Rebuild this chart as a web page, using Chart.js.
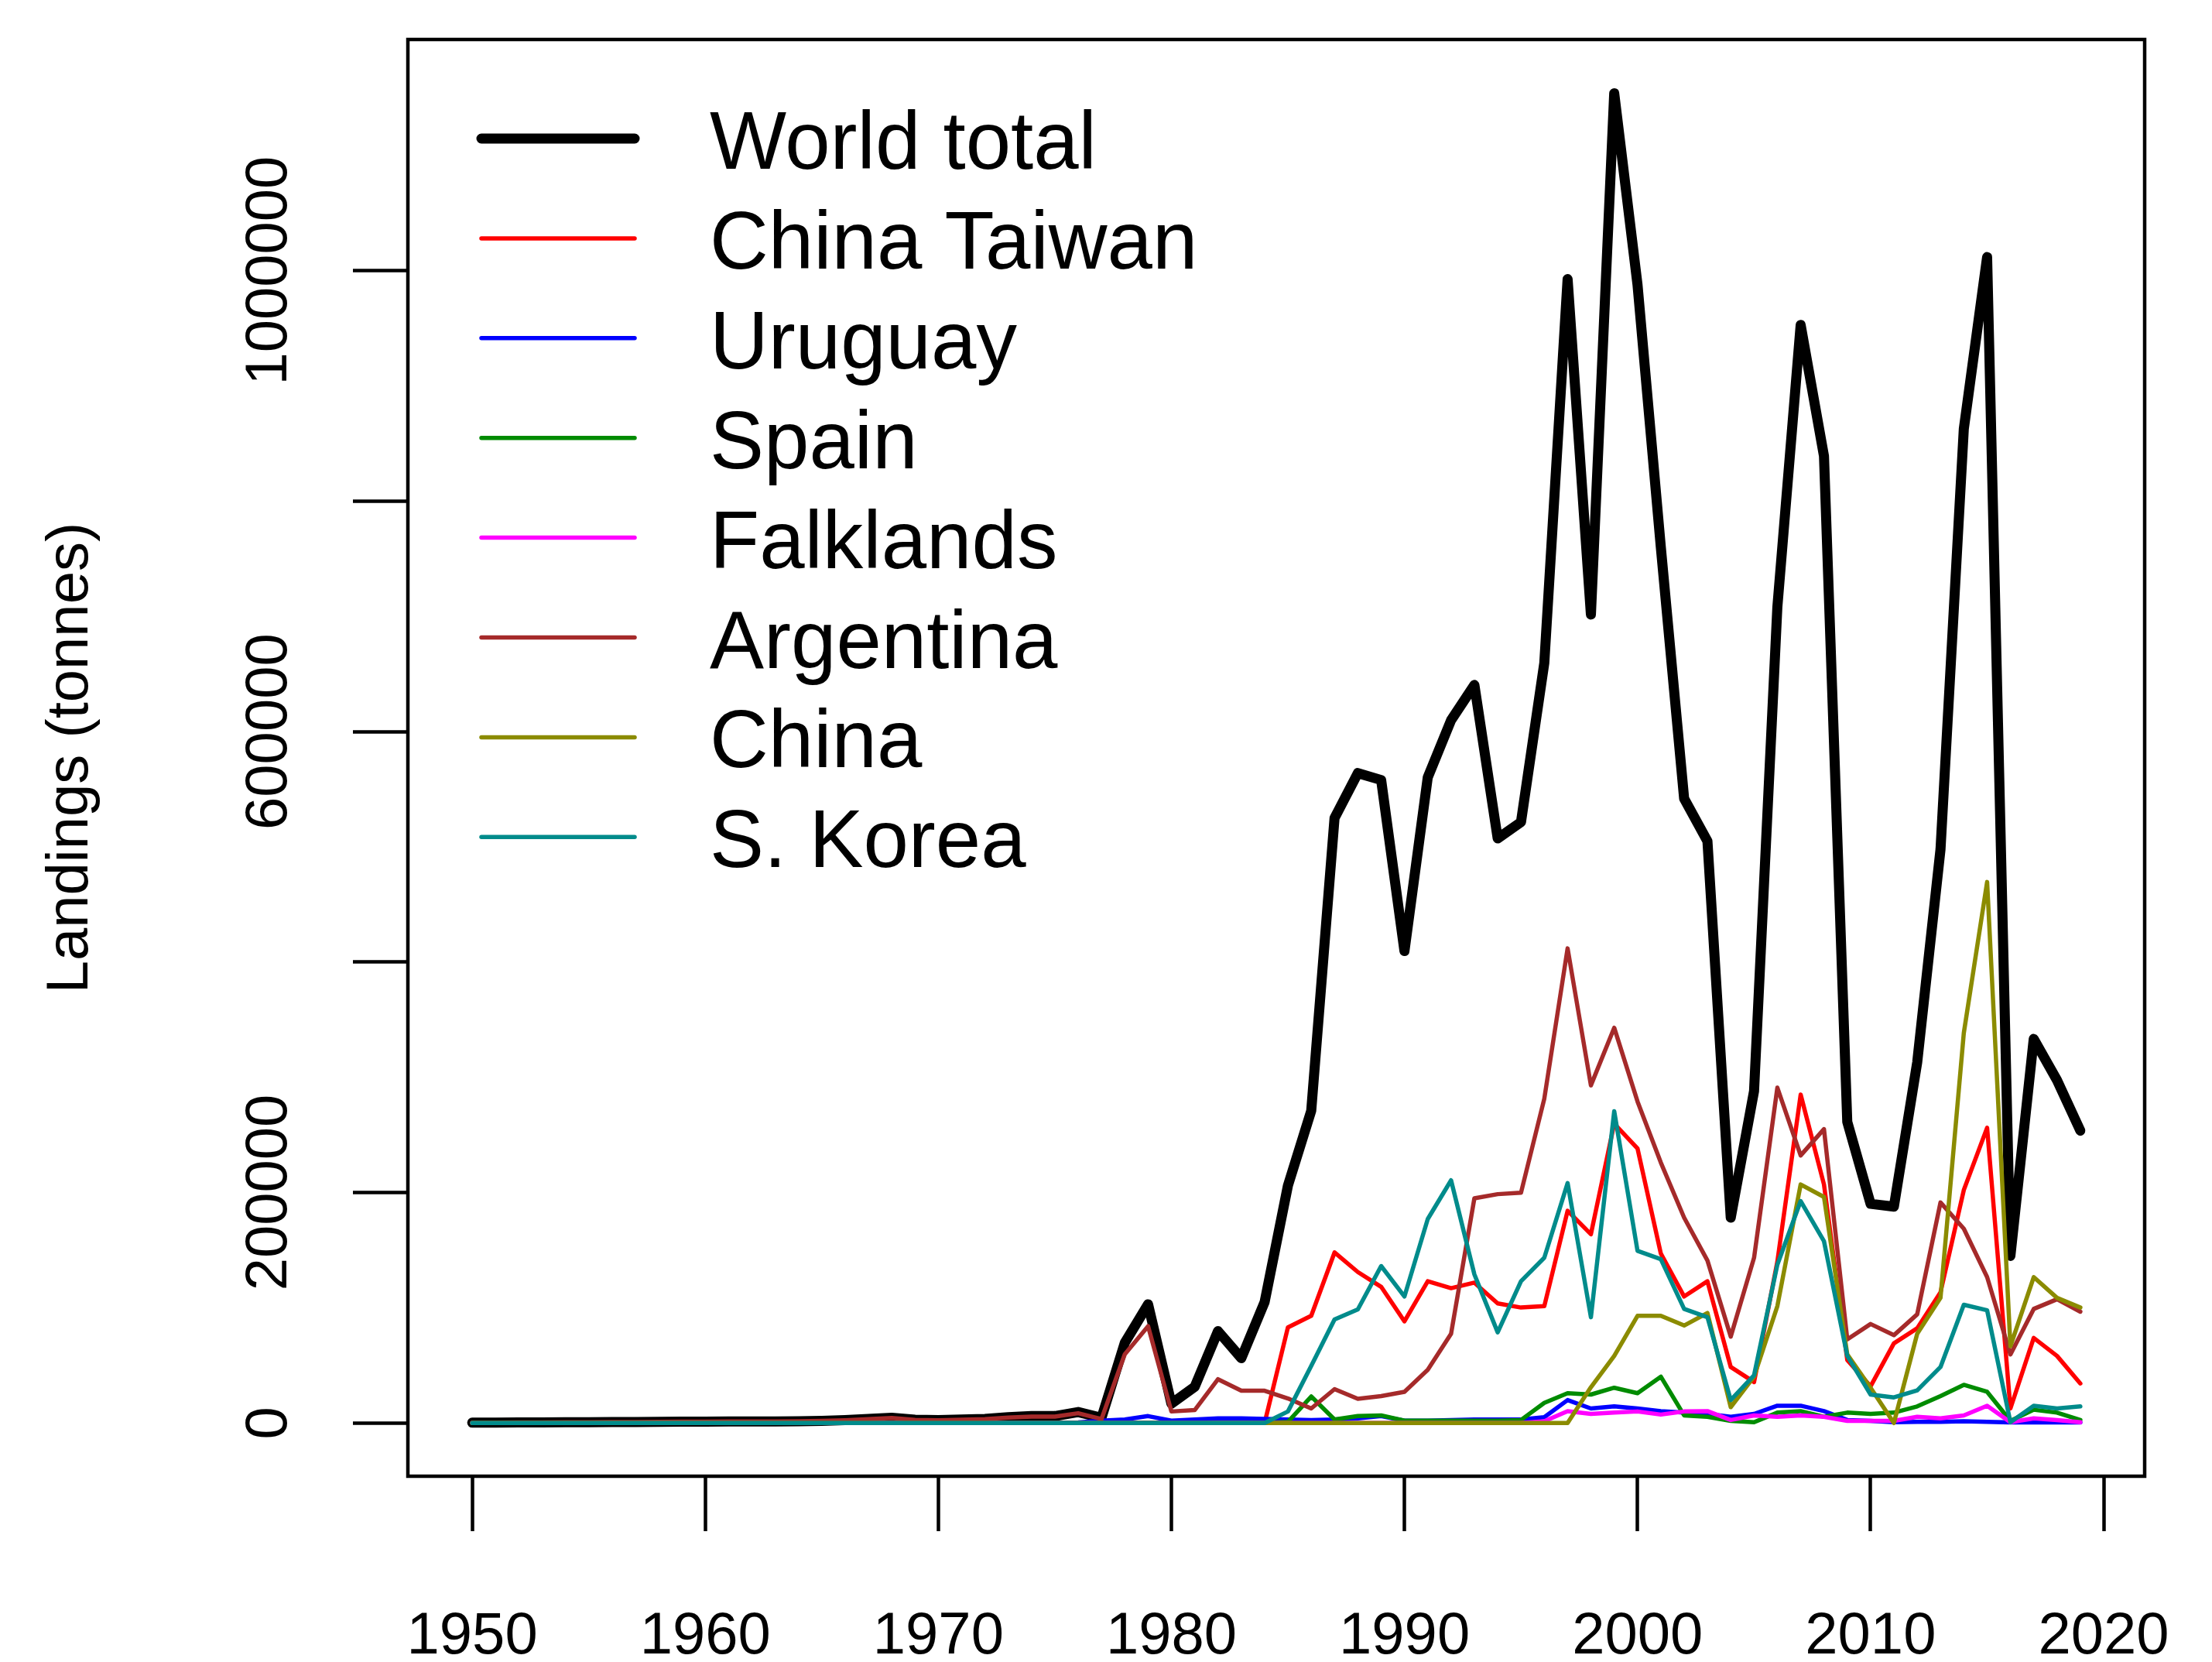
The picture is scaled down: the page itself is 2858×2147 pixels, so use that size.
<!DOCTYPE html>
<html>
<head>
<meta charset="utf-8">
<script src="https://cdn.jsdelivr.net/npm/chart.js@4.4.1/dist/chart.umd.min.js"></script>
<style>
  html, body { margin: 0; padding: 0; background: #fff; }
  #wrap { width: 2858px; height: 2147px; }
</style>
</head>
<body>
<div id="wrap"><canvas id="chart" width="2858" height="2147"></canvas></div>
<script>
// years on the x axis
const years = [
  1950, 1951, 1952, 1953, 1954, 1955, 1956, 1957, 1958, 1959,
  1960, 1961, 1962, 1963, 1964, 1965, 1966, 1967, 1968, 1969,
  1970, 1971, 1972, 1973, 1974, 1975, 1976, 1977, 1978, 1979,
  1980, 1981, 1982, 1983, 1984, 1985, 1986, 1987, 1988, 1989,
  1990, 1991, 1992, 1993, 1994, 1995, 1996, 1997, 1998, 1999,
  2000, 2001, 2002, 2003, 2004, 2005, 2006, 2007, 2008, 2009,
  2010, 2011, 2012, 2013, 2014, 2015, 2016, 2017, 2018, 2019
];

// landings in tonnes
const worldTotal = [
  300, 400, 500, 500, 600, 700, 800, 900, 1000, 1100,
  1200, 1300, 1300, 1400, 1500, 1800, 2500, 3500, 4500, 2800,
  2500, 3000, 3500, 5000, 6000, 6000, 9500, 4500, 69600, 103000,
  16800, 31400, 79700, 56200, 105000, 206000, 271000, 525000, 564000, 558000,
  409600, 560300, 609900, 640500, 507300, 521500, 659500, 992700, 701600, 1154000,
  987800, 760000, 541900, 505000, 178200, 288000, 708100, 952900, 839200, 261300,
  190200, 187800, 312900, 497800, 862700, 1011800, 145000, 333300, 297400, 253700
];
const chinaTaiwan = [
  0, 0, 0, 0, 0, 0, 0, 0, 0, 0,
  0, 0, 0, 0, 0, 0, 0, 0, 0, 0,
  0, 0, 0, 0, 0, 0, 0, 0, 0, 0,
  0, 0, 0, 0, 0, 83000, 93000, 148000, 131000, 118200,
  88200, 123000, 117000, 121800, 103800, 100200, 101400, 184200, 163800, 259800,
  238200, 147000, 109800, 123000, 48600, 35500, 140000, 285000, 207000, 54600,
  31800, 69100, 82200, 113400, 202200, 256200, 12600, 73800, 58200, 34300
];
const uruguay = [
  0, 0, 0, 0, 0, 0, 0, 0, 0, 0,
  0, 0, 0, 0, 0, 0, 0, 0, 0, 0,
  0, 0, 0, 0, 0, 0, 500, 2000, 3000, 6000,
  2000, 3000, 4000, 4000, 3500, 3000, 2500, 3000, 4000, 6000,
  2000, 2000, 2500, 3000, 3000, 3000, 5000, 19900, 12600, 14400,
  12600, 10300, 9000, 7900, 5400, 7900, 15000, 15000, 10300, 2600,
  1900, 700, 1000, 1000, 1500, 1000, 500, 500, 500, 500
];
const spain = [
  0, 0, 0, 0, 0, 0, 0, 0, 0, 0,
  0, 0, 0, 0, 0, 0, 0, 0, 0, 0,
  0, 0, 0, 0, 0, 0, 0, 0, 0, 0,
  0, 0, 0, 0, 0, 1000, 23000, 3000, 6000, 6600,
  2000, 2000, 2000, 2000, 2000, 2600, 17500, 25900, 24700, 30600,
  25900, 40200, 6600, 5400, 1900, 700, 9000, 10300, 5400, 9000,
  7900, 9000, 14400, 23400, 33100, 27100, 1900, 11500, 9000, 2600
];
const falklands = [
  0, 0, 0, 0, 0, 0, 0, 0, 0, 0,
  0, 0, 0, 0, 0, 0, 0, 0, 0, 0,
  0, 0, 0, 0, 0, 0, 0, 0, 0, 0,
  0, 0, 0, 0, 0, 0, 0, 0, 0, 0,
  0, 0, 0, 0, 0, 0, 1500, 10300, 7900, 9000,
  10000, 7300, 10000, 10300, 2600, 6600, 5400, 6600, 5400, 1900,
  1900, 1900, 5400, 4000, 6600, 15000, 700, 4000, 2600, 700
];
const argentina = [
  300, 400, 500, 500, 600, 700, 800, 900, 1000, 1100,
  1200, 1300, 1300, 1400, 1500, 1800, 2400, 3300, 4300, 2700,
  2400, 2900, 3300, 4700, 5600, 5500, 8500, 3400, 59600, 84000,
  10000, 11200, 38000, 28000, 28000, 21300, 12600, 29400, 21000, 23400,
  27000, 46200, 77400, 195000, 198600, 199800, 281400, 411900, 293000, 343000,
  279000, 226000, 178200, 141000, 75000, 143400, 291000, 232200, 255000, 72600,
  85900, 76200, 94300, 191400, 168600, 126600, 59500, 99000, 107400, 96600
];
const china = [
  0, 0, 0, 0, 0, 0, 0, 0, 0, 0,
  0, 0, 0, 0, 0, 0, 0, 0, 0, 0,
  0, 0, 0, 0, 0, 0, 0, 0, 0, 0,
  0, 0, 0, 0, 0, 0, 0, 0, 0, 0,
  0, 0, 0, 0, 0, 0, 0, 0, 31000, 58200,
  93000, 93000, 84600, 95500, 13800, 40200, 101400, 207000, 196200, 59500,
  30600, 0, 77400, 108600, 338400, 469500, 66600, 126600, 108600, 100200
];
const sKorea = [
  0, 0, 0, 0, 0, 0, 0, 0, 0, 0,
  0, 0, 0, 0, 0, 0, 0, 0, 0, 0,
  0, 0, 0, 0, 0, 0, 0, 0, 0, 0,
  0, 0, 0, 0, 0, 10000, 49500, 89800, 98600, 136200,
  109800, 177000, 210600, 129000, 78700, 123000, 143400, 208200, 91800, 270600,
  149400, 142200, 99000, 91800, 19900, 41400, 137400, 192600, 157800, 58200,
  24700, 22200, 28300, 48600, 102600, 97800, 700, 15000, 12600, 14400
];

const seriesNames = ['World total', 'China Taiwan', 'Uruguay', 'Spain', 'Falklands', 'Argentina', 'China', 'S. Korea'];
const seriesValues = [worldTotal, chinaTaiwan, uruguay, spain, falklands, argentina, china, sKorea];

// axis ticks
const xTicks = [1950, 1960, 1970, 1980, 1990, 2000, 2010, 2020];
const yTicks = [0, 200000, 400000, 600000, 800000, 1000000];
const yTickLabels = ['0', '200000', '', '600000', '', '1000000'];

// styles
const seriesColors = ['#000000', '#FF0000', '#0000FF', '#008B00', '#FF00FF', '#A52A2A', '#8B8B00', '#008B8B'];
const seriesWidths = [13, 5.5, 5.5, 5.5, 5.5, 5.5, 5.5, 5.5];

Chart.defaults.font.family = '"Liberation Sans", Arial, Helvetica, sans-serif';
Chart.defaults.color = '#000';

const datasets = seriesNames.map((name, k) => ({
  label: name,
  data: years.map((yr, i) => ({ x: yr, y: seriesValues[k][i] })),
  borderColor: seriesColors[k],
  backgroundColor: seriesColors[k],
  borderWidth: seriesWidths[k],
  pointRadius: 0,
  tension: 0,
  fill: false,
  borderCapStyle: 'round',
  borderJoinStyle: 'round',
  // first series drawn first, last one ends on top (like R's lines())
  order: seriesNames.length - k
}));

// box around the plot region
const plotBox = {
  id: 'plotBox',
  afterDatasetsDraw(chart) {
    const { ctx, chartArea: a } = chart;
    ctx.save();
    ctx.lineWidth = 4.5;
    ctx.strokeStyle = '#000';
    ctx.strokeRect(a.left, a.top, a.right - a.left, a.bottom - a.top);
    ctx.restore();
  }
};

// legend without a frame, top left inside the plot
const rLegend = {
  id: 'rLegend',
  afterDraw(chart) {
    const ctx = chart.ctx;
    ctx.save();
    ctx.font = '105px "Liberation Sans", Arial, sans-serif';
    ctx.fillStyle = '#000';
    ctx.textBaseline = 'alphabetic';
    ctx.lineCap = 'round';
    chart.data.datasets.forEach((ds, i) => {
      const y = 179 + i * 128.9;
      ctx.strokeStyle = ds.borderColor;
      ctx.lineWidth = ds.borderWidth;
      ctx.beginPath();
      ctx.moveTo(622, y);
      ctx.lineTo(820, y);
      ctx.stroke();
      ctx.fillText(ds.label, 917, y + 39);
    });
    ctx.restore();
  }
};

const tickGrid = {
  drawOnChartArea: false,
  drawTicks: true,
  tickLength: 71,
  tickWidth: 4.5,
  tickColor: '#000'
};

new Chart(document.getElementById('chart'), {
  type: 'line',
  data: { datasets: datasets },
  options: {
    responsive: false,
    animation: false,
    devicePixelRatio: 1,
    layout: { padding: { left: 0, right: 87, top: 51, bottom: 0 } },
    plugins: {
      legend: { display: false },
      tooltip: { enabled: false }
    },
    scales: {
      x: {
        type: 'linear',
        min: 1947.24,
        max: 2021.76,
        afterBuildTicks: s => { s.ticks = xTicks.map(v => ({ value: v })); },
        afterFit: s => { s.height = 240; s.paddingLeft = 0; s.paddingRight = 0; },
        grid: tickGrid,
        border: { display: false },
        ticks: {
          autoSkip: false,
          minRotation: 0,
          maxRotation: 0,
          padding: 91,
          font: { size: 76 },
          color: '#000',
          callback: v => String(v)
        }
      },
      y: {
        type: 'linear',
        min: -46180,
        max: 1200650,
        afterBuildTicks: s => { s.ticks = yTicks.map(v => ({ value: v })); },
        afterFit: s => { s.width = 527; s.paddingTop = 0; s.paddingBottom = 0; },
        grid: tickGrid,
        border: { display: false },
        ticks: {
          autoSkip: false,
          minRotation: 90,
          maxRotation: 90,
          crossAlign: 'center',
          padding: -40.5,
          font: { size: 76 },
          color: '#000',
          callback: (v, i) => yTickLabels[i]
        },
        title: {
          display: true,
          text: 'Landings (tonnes)',
          font: { size: 76 },
          color: '#000',
          padding: { top: 46, bottom: 0 }
        }
      }
    }
  },
  plugins: [plotBox, rLegend]
});
</script>
</body>
</html>
